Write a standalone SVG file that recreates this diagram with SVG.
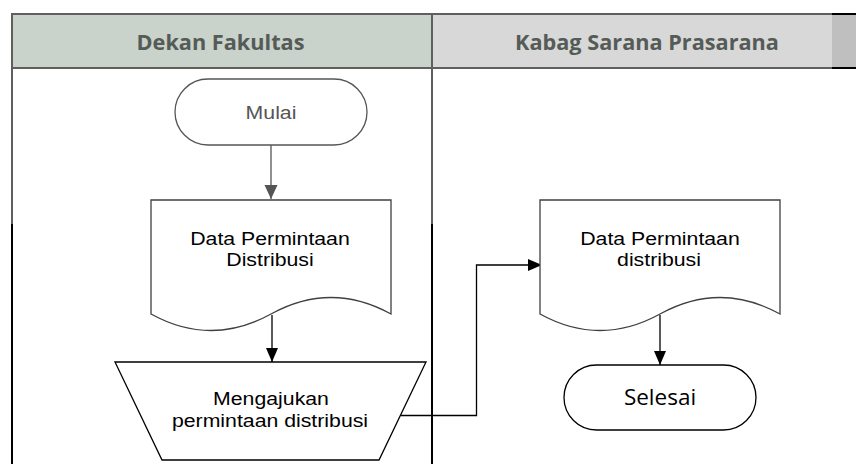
<svg xmlns="http://www.w3.org/2000/svg" width="856" height="464" viewBox="0 0 856 464">
<style>
.hdr{font-family:"Open Sans","Liberation Sans",sans-serif;font-weight:bold;font-size:21.7px;fill:#555b56;text-anchor:middle}
.txt{font-family:"Liberation Sans",Arial,sans-serif;font-size:18.5px;fill:#000;text-anchor:middle}
.cal{font-family:"Open Sans","Liberation Sans",sans-serif;font-size:22.5px;fill:#000;text-anchor:middle}
.shape{fill:#fff;stroke:#404040;stroke-width:1.3}
.conn{fill:none;stroke:#000;stroke-width:1.3}
</style>
<defs>
<marker id="ah" viewBox="0 0 14 14" markerWidth="14" markerHeight="14" refX="14" refY="7" orient="auto" markerUnits="userSpaceOnUse"><path d="M0,1 L14,7 L0,13 z" fill="#000"/></marker>
<marker id="ahg" viewBox="0 0 14 14" markerWidth="14" markerHeight="14" refX="14" refY="7" orient="auto" markerUnits="userSpaceOnUse"><path d="M0,0.5 L14,7 L0,13.5 z" fill="#555"/></marker>
</defs>
<rect width="856" height="464" fill="#fff"/>
<g id="lanes">
<rect x="12" y="14" width="420" height="54" fill="#c9d2cb"/>
<rect x="432" y="14" width="400" height="54" fill="#d8d8d8"/>
<rect x="832" y="14" width="24" height="54" fill="#bfbfbf"/>
<path d="M12,14 H832 M12,68 H832" stroke="#5f5f5f" stroke-width="2" fill="none"/>
<path d="M832,14 H856 M832,68 H856" stroke="#000" stroke-width="2" fill="none"/>
<path d="M12,13 V224 M432,13 V224" stroke="#5f5f5f" stroke-width="2" fill="none"/>
<path d="M12,224 V464 M432,224 V464" stroke="#000" stroke-width="2" fill="none"/>
<text class="hdr" x="220.5" y="50">Dekan Fakultas</text>
<text class="hdr" x="647" y="50">Kabag Sarana Prasarana</text>
</g>
<g id="connectors">
<path class="conn" d="M271,145 V199" stroke="#555" style="stroke:#555" marker-end="url(#ahg)"/>
<path class="conn" d="M272,315 V362" marker-end="url(#ah)"/>
<path class="conn" d="M401,415.5 H476.5 V265 H542" marker-end="url(#ah)"/>
<path class="conn" d="M660,315 V365" marker-end="url(#ah)"/>
</g>
<g id="mulai">
<rect x="175" y="79" width="192" height="66" rx="33" ry="33" fill="#fff" stroke="#555" stroke-width="1.3"/>
<text class="txt" transform="translate(271 119) scale(1.15 1)" style="fill:#555">Mulai</text>
</g>
<g id="doc1">
<path class="shape" d="M151,200 H391 V314 C351,292 311,292 271,314 C231,336 191,336 151,314 Z"/>
<text class="txt" transform="translate(270 245) scale(1.15 1)">Data Permintaan</text>
<text class="txt" transform="translate(270 266) scale(1.15 1)">Distribusi</text>
</g>
<g id="mengajukan">
<path d="M115,362 H426 L379,460 H162 Z" fill="#fff" stroke="#000" stroke-width="1.3"/>
<text class="txt" transform="translate(271 405) scale(1.15 1)">Mengajukan</text>
<text class="txt" transform="translate(270 427) scale(1.15 1)">permintaan distribusi</text>
</g>
<g id="doc2">
<path class="shape" d="M540,200 H780 V314 C740,292 700,292 660,314 C620,336 580,336 540,314 Z"/>
<text class="txt" transform="translate(660 245) scale(1.15 1)">Data Permintaan</text>
<text class="txt" transform="translate(659 266) scale(1.15 1)">distribusi</text>
</g>
<g id="selesai">
<rect x="564" y="365" width="192" height="65" rx="32.5" ry="32.5" fill="#fff" stroke="#000" stroke-width="1.3"/>
<text class="cal" x="660" y="405">Selesai</text>
</g>
</svg>
